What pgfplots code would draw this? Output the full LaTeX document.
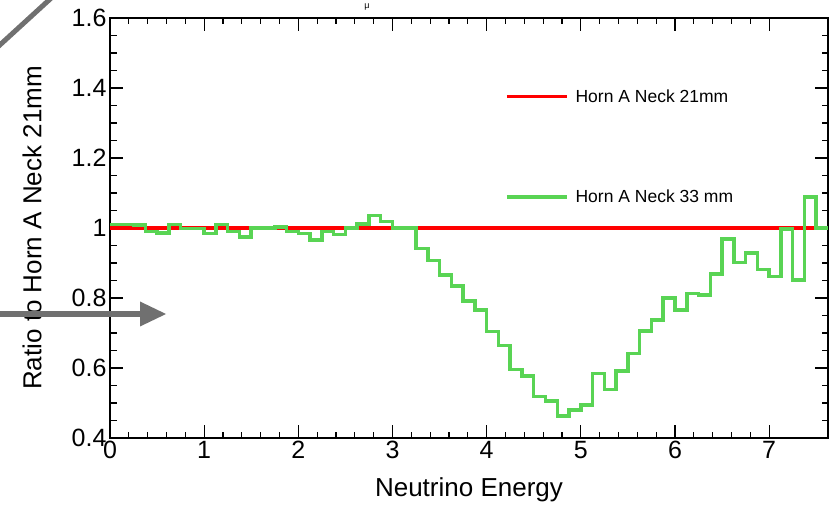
\documentclass[border=0pt]{standalone}
\usepackage{pgfplots}
\pgfplotsset{compat=1.18}
\usepackage{fontspec}
\setmainfont{Liberation Sans}
\definecolor{rootgreen}{RGB}{89,212,84}
\definecolor{arrowgray}{RGB}{112,112,112}
\begin{document}
\begin{tikzpicture}[x=1pt,y=1pt]
\begin{axis}[
  at={(110pt,66pt)}, anchor=south west,
  scale only axis, width=718pt, height=420pt,
  xmin=0, xmax=7.625, ymin=0.4, ymax=1.6,
  xtick={0,1,2,3,4,5,6,7}, minor x tick num=4,
  ytick={0.4,0.6,0.8,1,1.2,1.4,1.6}, minor y tick num=3,
  major tick length=13pt, minor tick length=6.5pt,
  axis line style={line width=1.3pt},
  every tick/.style={black, line width=1.2pt},
  /pgf/number format/assume math mode=true,
  /pgf/number format/fixed,
  ticklabel style={font=\fontsize{25}{25}\selectfont},
  label style={font=\fontsize{26}{26}\selectfont},
  xlabel={Neutrino Energy},
  ylabel={Ratio to Horn A Neck 21mm},
  xlabel style={at={(axis description cs:0.5,0)}, anchor=base, yshift=-58pt},
  ylabel style={at={(axis description cs:-0.1086,0.5)}, anchor=center},
  legend style={draw=none, fill=none, at={(rel axis cs:0.55,0.835)}, anchor=north west,
    font=\fontsize{17.5}{17.5}\selectfont, row sep=82pt, inner sep=0pt,
    cells={anchor=west}},
  legend image code/.code={\draw[#1] (0pt,0pt) -- (60pt,0pt); \path (65pt,0pt);},
  clip=true,
]
\addplot[red, line width=3.5pt, const plot] coordinates {(0,1) (7.625,1)};
\addlegendentry{Horn A Neck 21mm}
\addplot[rootgreen, line width=3.5pt, const plot mark left] coordinates {
(0,1.010) (0.125,1.010) (0.25,1.008) (0.375,0.990) (0.5,0.986) (0.625,1.010)
(0.75,0.998) (0.875,0.999) (1.0,0.985) (1.125,1.010) (1.25,0.990) (1.375,0.975)
(1.5,1.000) (1.625,1.000) (1.75,1.003) (1.875,0.990) (2.0,0.985) (2.125,0.966)
(2.25,0.990) (2.375,0.982) (2.5,1.000) (2.625,1.012) (2.75,1.035) (2.875,1.018)
(3.0,1.000) (3.125,1.000) (3.25,0.941) (3.375,0.907) (3.5,0.866) (3.625,0.834)
(3.75,0.792) (3.875,0.766) (4.0,0.704) (4.125,0.664) (4.25,0.596) (4.375,0.577)
(4.5,0.518) (4.625,0.506) (4.75,0.463) (4.875,0.480) (5.0,0.494) (5.125,0.585)
(5.25,0.538) (5.375,0.592) (5.5,0.642) (5.625,0.706) (5.75,0.737) (5.875,0.800)
(6.0,0.766) (6.125,0.813) (6.25,0.809) (6.375,0.868) (6.5,0.968) (6.625,0.901)
(6.75,0.928) (6.875,0.882) (7.0,0.861) (7.125,0.997) (7.25,0.851) (7.375,1.089)
(7.5,1.000) (7.625,1.000)};
\addlegendentry{Horn A Neck 33 mm}
\end{axis}
\node[font=\fontsize{9}{9}\selectfont] at (367,497) {μ};
\draw[arrowgray, line width=5pt] (-10,450) -- (60,514);
\draw[arrowgray, line width=6pt] (-10,190) -- (145,190);
\fill[arrowgray] (140,202.5) -- (166,190) -- (140,177.5) -- cycle;
\pgfresetboundingbox
\useasboundingbox (0,0) rectangle (833,504);
\end{tikzpicture}
\end{document}
